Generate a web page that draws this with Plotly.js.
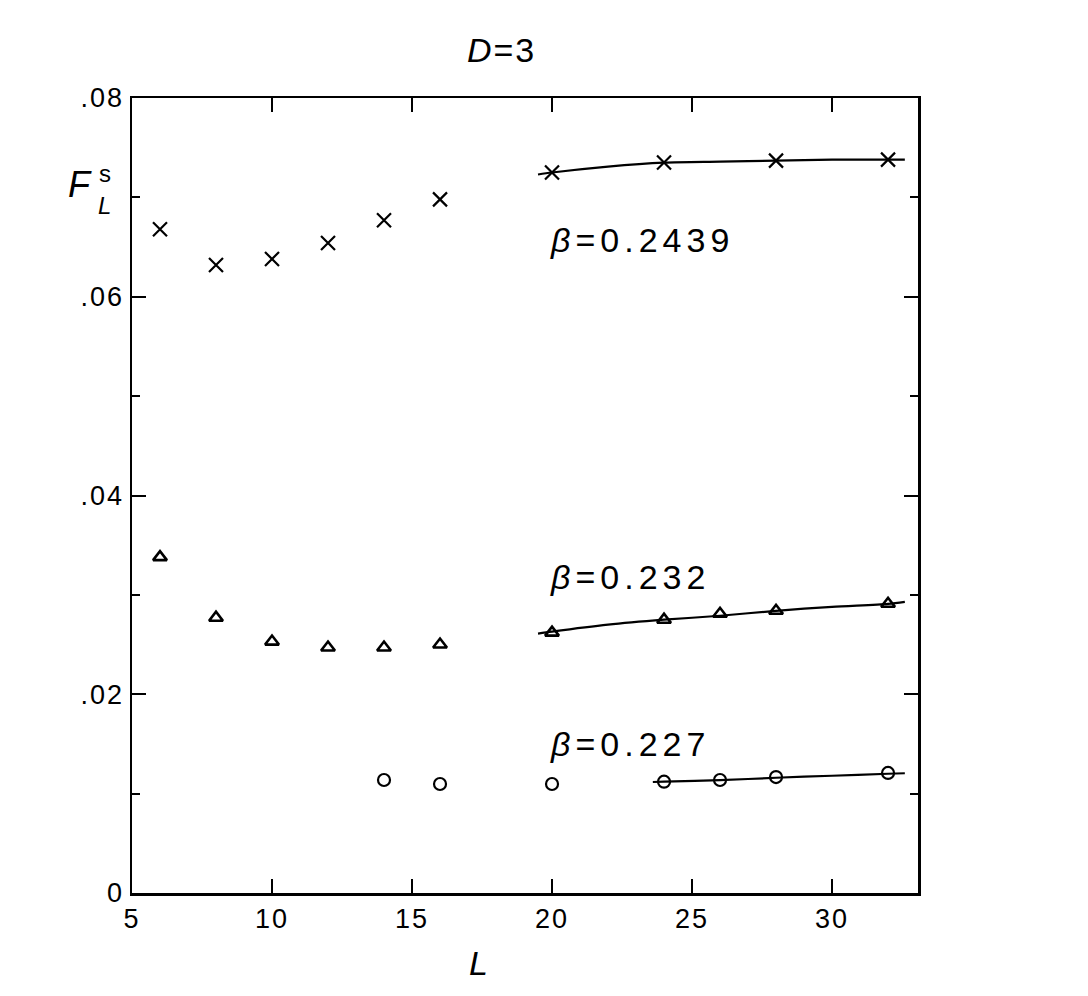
<!DOCTYPE html>
<html>
<head>
<meta charset="utf-8">
<script src="https://cdn.plot.ly/plotly-3.0.1.min.js"></script>
<style>html,body{margin:0;padding:0;background:#fff;}</style>
</head>
<body>
<div id="chart" style="width:1088px;height:996px;"></div>
<script>
// beta = 0.2439 (crosses)
const L_b2439 = [6, 8, 10, 12, 14, 16, 20, 24, 28, 32];
const F_b2439 = [0.0668, 0.0632, 0.0638, 0.0654, 0.0677, 0.0698, 0.0725, 0.0735, 0.0737, 0.0738];
const Lfit_b2439 = [19.5, 20, 22, 24, 26, 28, 30, 32, 32.6];
const Ffit_b2439 = [0.0723, 0.0725, 0.0731, 0.0735, 0.0736, 0.0737, 0.0738, 0.0738, 0.0738];

// beta = 0.232 (triangles)
const L_b232 = [6, 8, 10, 12, 14, 16, 20, 24, 26, 28, 32];
const F_b232 = [0.0338, 0.0277, 0.0253, 0.0247, 0.0247, 0.0250, 0.0262, 0.0275, 0.0281, 0.0284, 0.0291];
const Lfit_b232 = [19.5, 20, 22, 24, 26, 28, 30, 32, 32.6];
const Ffit_b232 = [0.0261, 0.0263, 0.0270, 0.0275, 0.0279, 0.0284, 0.0288, 0.0291, 0.0293];

// beta = 0.227 (circles)
const L_b227 = [14, 16, 20, 24, 26, 28, 32];
const F_b227 = [0.01137, 0.01097, 0.01097, 0.0112, 0.01137, 0.01167, 0.01208];
const Lfit_b227 = [23.6, 24, 26, 28, 30, 32, 32.6];
const Ffit_b227 = [0.01117, 0.0112, 0.01135, 0.01160, 0.01180, 0.01200, 0.01205];

const yTickVals = [0, 0.02, 0.04, 0.06, 0.08];
const yTickText = ["0", ".02", ".04", ".06", ".08"];
const xTickVals = [5, 10, 15, 20, 25, 30];
const xTickText = ["5", "10", "15", "20", "25", "30"];

const betaLabels = ["β=0.2439", "β=0.232", "β=0.227"];
const betaLabelPos = [[19.85, 0.0657], [19.85, 0.0318], [19.85, 0.0150]];

const FONT = "Liberation Sans, Arial, sans-serif";
const BLACK = "#000";
const spaced = (t, px) => '<span style="letter-spacing:' + px + 'px">' + t + '</span>';

const fitLine = (x, y) => ({
  x: x, y: y, mode: "lines", type: "scatter",
  line: {color: BLACK, width: 2.2, shape: "spline", smoothing: 0.8},
  hoverinfo: "skip", showlegend: false
});

const traces = [
  fitLine(Lfit_b2439, Ffit_b2439),
  fitLine(Lfit_b232, Ffit_b232),
  fitLine(Lfit_b227, Ffit_b227),
  {x: L_b2439, y: F_b2439, mode: "markers", type: "scatter", showlegend: false,
   marker: {symbol: "x-thin-open", size: 14, color: BLACK, line: {color: BLACK, width: 2.2}}},
  {x: L_b232, y: F_b232, mode: "markers", type: "scatter", showlegend: false,
   marker: {symbol: "triangle-up-open", size: 12, color: BLACK, line: {color: BLACK, width: 2.6}}},
  {x: L_b227, y: F_b227, mode: "markers", type: "scatter", showlegend: false,
   marker: {symbol: "circle-open", size: 12, color: BLACK, line: {color: BLACK, width: 2.2}}}
];

const annotations = betaLabels.map((t, i) => ({
  x: betaLabelPos[i][0], y: betaLabelPos[i][1], xref: "x", yref: "y",
  text: spaced("<i>" + t.slice(0, 1) + "</i>" + t.slice(1), 5), showarrow: false,
  xanchor: "left", yanchor: "middle",
  font: {family: FONT, size: 34, color: BLACK}
}));

// y-axis label F^s_L
annotations.push({xref: "paper", yref: "paper", x: -0.066, y: 0.8906, text: "<i>F</i>",
  showarrow: false, xanchor: "center", yanchor: "middle", font: {family: FONT, size: 36, color: BLACK}});
annotations.push({xref: "paper", yref: "paper", x: -0.0344, y: 0.905, text: "s",
  showarrow: false, xanchor: "center", yanchor: "middle", font: {family: FONT, size: 24, color: BLACK}});
annotations.push({xref: "paper", yref: "paper", x: -0.0356, y: 0.865, text: "<i>L</i>",
  showarrow: false, xanchor: "center", yanchor: "middle", font: {family: FONT, size: 24, color: BLACK}});
// x-axis label
annotations.push({xref: "paper", yref: "paper", x: 0.441, y: -0.088, text: "<i>L</i>",
  showarrow: false, xanchor: "center", yanchor: "middle", font: {family: FONT, size: 34, color: BLACK}});

const layout = {
  width: 1088, height: 996,
  margin: {l: 132, r: 170, t: 98, b: 103},
  paper_bgcolor: "#fff", plot_bgcolor: "#fff",
  title: {text: spaced("<i>D</i>=3", 2), font: {family: FONT, size: 34, color: BLACK},
          x: 0.461, xanchor: "center", y: 0.95, yanchor: "middle"},
  font: {family: FONT, color: BLACK},
  xaxis: {
    range: [5, 33.07], tickvals: xTickVals, ticktext: xTickText.map(t => spaced(t, 2)),
    ticks: "inside", ticklen: 14, tickwidth: 2,
    tickcolor: BLACK, showline: true, linecolor: BLACK, linewidth: 2.5, mirror: "ticks",
    showgrid: false, zeroline: false, tickfont: {family: FONT, size: 27, color: BLACK},
    fixedrange: true
  },
  yaxis: {
    range: [0, 0.08], tickvals: yTickVals, ticktext: yTickText.map(t => spaced(t, 2)),
    ticks: "inside", ticklen: 14,
    tickwidth: 2, tickcolor: BLACK, showline: true, linecolor: BLACK, linewidth: 2.5,
    mirror: "ticks", showgrid: false, zeroline: false,
    tickfont: {family: FONT, size: 27, color: BLACK},
    minor: {dtick: 0.01, ticks: "inside", ticklen: 8, tickwidth: 2, tickcolor: BLACK, showgrid: false},
    fixedrange: true
  },
  annotations: annotations,
  showlegend: false
};

Plotly.newPlot("chart", traces, layout, {displayModeBar: false, staticPlot: true});
</script>
</body>
</html>
